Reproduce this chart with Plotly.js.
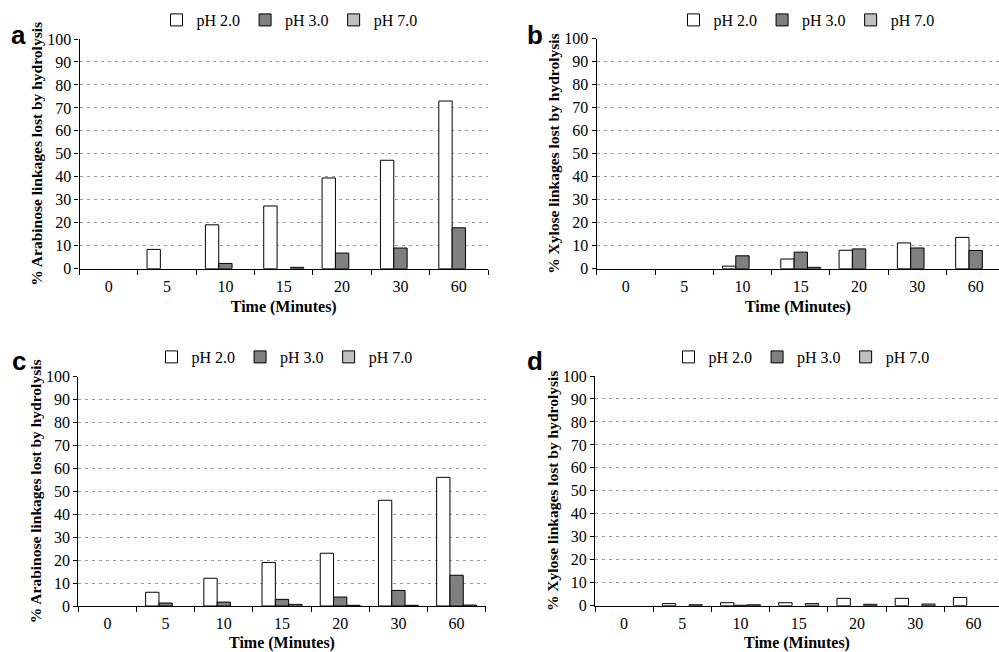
<!DOCTYPE html>
<html>
<head>
<meta charset="utf-8">
<script src="https://cdn.plot.ly/plotly-3.0.1.min.js"></script>
<style>
  html, body { margin: 0; padding: 0; background: #fff; overflow: hidden; }
  #chart { width: 999px; height: 652px; }
</style>
</head>
<body>
<div id="chart"></div>
<script>
// ---- Data ----
const timeLabels = ['0', '5', '10', '15', '20', '30', '60'];
const seriesNames = ['pH 2.0', 'pH 3.0', 'pH 7.0'];

// Panel a: % Arabinose linkages lost (sample 1)
const a_pH2 = [0, 8.4, 19.1, 27.3, 39.5, 47.2, 73.0];
const a_pH3 = [0, 0, 2.3, 0, 6.8, 9.0, 17.8];
const a_pH7 = [0, 0, 0, 0.6, 0, 0, 0];

// Panel b: % Xylose linkages lost (sample 1)
const b_pH2 = [0, 0, 1.1, 4.2, 8.0, 11.2, 13.6];
const b_pH3 = [0, 0, 5.6, 7.2, 8.6, 9.0, 7.9];
const b_pH7 = [0, 0, 0, 0.6, 0, 0, 0];

// Panel c: % Arabinose linkages lost (sample 2)
const c_pH2 = [0, 6.0, 12.1, 19.0, 23.0, 46.1, 56.1];
const c_pH3 = [0, 1.3, 1.7, 2.9, 3.9, 6.8, 13.4];
const c_pH7 = [0, 0, 0, 0.7, 0.3, 0.3, 0.4];

// Panel d: % Xylose linkages lost (sample 2)
const d_pH2 = [0, 0.9, 1.3, 1.3, 3.2, 3.2, 3.6];
const d_pH3 = [0, 0, 0.2, 0, 0, 0, 0];
const d_pH7 = [0, 0.4, 0.4, 0.9, 0.6, 0.7, 0];

const yTitleArab = '% Arabinose linkages lost by hydrolysis';
const yTitleXyl = '% Xylose linkages lost by hydrolysis';
const xTitle = 'Time (Minutes)';
const panelLetters = ['a', 'b', 'c', 'd'];

// ---- Styling ----
const W = 999, H = 652;
const fillColors = ['#ffffff', '#808080', '#c0c0c0'];
const serif = "Liberation Serif";
const sans = "Liberation Sans";
const px = x => x / W;
const py = y => 1 - y / H;

const panels = [
  {data: [a_pH2, a_pH3, a_pH7], xa: 'x',  ya: 'y',  lg: 'legend'},
  {data: [b_pH2, b_pH3, b_pH7], xa: 'x2', ya: 'y2', lg: 'legend2'},
  {data: [c_pH2, c_pH3, c_pH7], xa: 'x3', ya: 'y3', lg: 'legend3'},
  {data: [d_pH2, d_pH3, d_pH7], xa: 'x4', ya: 'y4', lg: 'legend4'}
];

const traces = [];
panels.forEach(p => {
  p.data.forEach((vals, i) => {
    traces.push({
      type: 'bar',
      x: timeLabels,
      // zero-height bars are not drawn in the original figure
      y: vals.map(v => (v > 0 ? v : null)),
      name: seriesNames[i],
      xaxis: p.xa,
      yaxis: p.ya,
      legend: p.lg,
      marker: {color: fillColors[i], line: {color: '#000', width: 1}},
      hoverinfo: 'x+y+name'
    });
  });
});

function xAxis(domain, range, anchor) {
  return {
    domain: domain, anchor: anchor, type: 'category', range: range,
    showline: true, linecolor: '#000', linewidth: 1.3,
    ticks: 'outside', tickson: 'boundaries', ticklen: 5, tickcolor: '#000', tickwidth: 1.3,
    ticklabelstandoff: 3,
    showgrid: false, zeroline: false, fixedrange: true,
    tickfont: {family: serif, size: 16, color: '#000000'},
    title: {text: xTitle, font: {family: serif, size: 16, color: '#000', weight: 'bold'}, standoff: 6}
  };
}
function yAxis(domain, anchor, title) {
  return {
    domain: domain, anchor: anchor, range: [0, 100], dtick: 10, tick0: 0,
    showline: true, linecolor: '#000', linewidth: 1.3,
    ticks: 'outside', ticklen: 4, tickcolor: '#000', tickwidth: 1.3,
    showgrid: true, gridcolor: '#9a9a9a', gridwidth: 1, griddash: '3px,4px',
    zeroline: false, fixedrange: true,
    tickfont: {family: serif, size: 16, color: '#000000'},
    title: {text: title, font: {family: serif, size: 15.5, color: '#000', weight: 'bold'}, standoff: 0}
  };
}
function legendAt(cx, cy) {
  return {
    orientation: 'h', x: px(cx), xanchor: 'center', y: py(cy), yanchor: 'middle',
    font: {family: serif, size: 16, color: '#000'},
    itemwidth: 30, bgcolor: 'rgba(0,0,0,0)', borderwidth: 0,
    itemclick: false, itemdoubleclick: false
  };
}
function letter(t, cx, cy) {
  return {
    text: t, xref: 'paper', yref: 'paper', x: px(cx), y: py(cy),
    xanchor: 'center', yanchor: 'middle', showarrow: false,
    font: {family: sans, size: 26, color: '#000', weight: 'bold'}
  };
}

const layout = {
  width: W, height: H, autosize: false,
  margin: {l: 0, r: 0, t: 0, b: 0, pad: 0},
  paper_bgcolor: '#fff', plot_bgcolor: '#fff',
  barmode: 'group', bargap: 0.314, bargroupgap: 0,
  font: {family: serif, size: 16, color: '#000'},
  xaxis:  xAxis([px(79.5), px(488)], [-0.5, 6.5], 'y'),
  yaxis:  yAxis([py(268.7), py(39)], 'x', yTitleArab),
  xaxis2: xAxis([px(596.7), 1], [-0.5, 6.4], 'y2'),
  yaxis2: yAxis([py(268.7), py(38.5)], 'x2', yTitleXyl),
  xaxis3: xAxis([px(78.3), px(485.7)], [-0.5, 6.5], 'y3'),
  yaxis3: yAxis([py(606), py(376.7)], 'x3', yTitleArab),
  xaxis4: xAxis([px(595), 1], [-0.5, 6.44], 'y4'),
  yaxis4: yAxis([py(605.7), py(376)], 'x4', yTitleXyl),
  legend:  legendAt(289.5, 20),
  legend2: legendAt(806.5, 20),
  legend3: legendAt(284.5, 357),
  legend4: legendAt(801.5, 357),
  annotations: [
    letter(panelLetters[0], 18.5, 35.5),
    letter(panelLetters[1], 534.5, 35.5),
    letter(panelLetters[2], 19, 360.5),
    letter(panelLetters[3], 534.5, 360.5)
  ],
  showlegend: true
};

Plotly.newPlot('chart', traces, layout, {displayModeBar: false, responsive: false});
</script>
</body>
</html>
